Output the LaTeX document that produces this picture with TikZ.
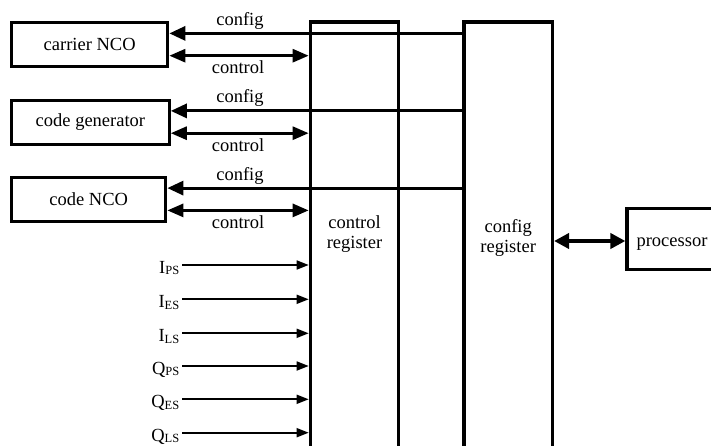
\documentclass[tikz,border=0pt]{standalone}
\usepackage{fontspec}
\setmainfont{Liberation Serif}
\usetikzlibrary{arrows.meta}
\newcommand{\mysub}[1]{\raisebox{-1.5pt}{\fontsize{12.5}{12.5}\selectfont #1}}
\begin{document}
\begin{tikzpicture}[x=1pt,y=-1pt,
  font=\fontsize{18.5}{20}\selectfont,
  blk/.style={draw, line width=3.3pt, minimum width=156pt, minimum height=44pt, inner sep=0pt},
  reg/.style={draw, line width=3.2pt, minimum width=88.5pt, minimum height=440pt, anchor=north, inner sep=0pt},
  regtxt/.style={align=center, inner sep=0pt},
  cfgline/.style={line width=3pt, -{Triangle[length=16pt,width=14pt]}},
  ctlline/.style={line width=2.8pt, {Triangle[length=16pt,width=13pt]}-{Triangle[length=16pt,width=13pt]}},
  inarr/.style={line width=1.7pt, -{Triangle[length=12pt,width=9pt]}},
  procarr/.style={line width=4pt, {Triangle[length=15pt,width=15pt]}-{Triangle[length=15pt,width=15pt]}},
  lbl/.style={anchor=base, inner sep=0pt},
  inlbl/.style={anchor=base east, inner sep=0pt},
]
\useasboundingbox (0,0) rectangle (711,446);
\clip (0,0) rectangle (711,446);

% left blocks
\node[blk] (carrier) at (89.7,44.7) {carrier NCO};
\node[blk, minimum width=157.5pt] (codegen) at (90.4,122.2) {code generator};
\node[blk, minimum width=154pt] (codenco) at (88.7,199.4) {code NCO};

% registers
\node[reg] (ctrl) at (354.5,20.4) {};
\node[regtxt] (ctrltxt) at (354.5,233.7) {control\\register};
\node[reg] (cfgreg) at (508.2,20.4) {};
\node[regtxt] (cfgtxt) at (508.2,238.4) {config\\register};

% processor
\node[draw, line width=3.2pt, minimum width=90pt, minimum height=60.3pt, inner sep=0pt,
      text height=19.4pt, text depth=4pt] (proc) at (672,239) {processor};
\coordinate (pp) at ([yshift=-2pt]proc.west);
\draw[procarr] (pp -| cfgreg.east) -- (pp);

% config / control connections
\coordinate (mid) at (240,0);
\foreach \b in {carrier,codegen,codenco}{
  \coordinate (\b-cf) at ([yshift=11.3pt]\b.east);
  \coordinate (\b-ct) at ([yshift=-11pt]\b.east);
  \draw[cfgline] (\b-cf -| cfgreg.west) -- (\b-cf);
  \draw[ctlline] (\b-ct) -- (\b-ct -| ctrl.west);
  \path (\b-cf -| mid) ++(0,-8) node[lbl] (\b-cfl) {config};
  \path (\b-ct -| mid) ++(-2,18) node[lbl] (\b-ctl) {control};
}

% input signals
\foreach \n/\y/\t in {ips/265/{I\mysub{PS}}, ies/299.3/{I\mysub{ES}}, ils/333.3/{I\mysub{LS}},
                      qps/366/{Q\mysub{PS}}, qes/399.3/{Q\mysub{ES}}, qls/432.7/{Q\mysub{LS}}}{
  \coordinate (\n-s) at (182,\y);
  \node[inlbl] (\n-l) at (179.5,\y+8.3) {\t};
  \draw[inarr] (\n-s) -- (\n-s -| ctrl.west);
}
\end{tikzpicture}
\end{document}
